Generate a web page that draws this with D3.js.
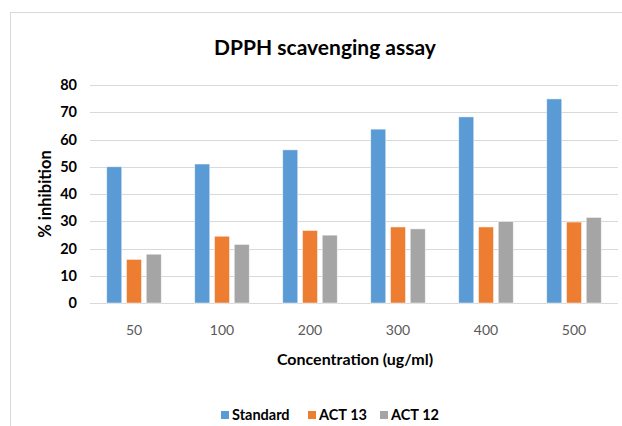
<!DOCTYPE html>
<html>
<head>
<meta charset="utf-8">
<script src="https://cdn.jsdelivr.net/npm/d3@7"></script>
<style>
  body { margin: 0; background: #fff; }
  svg { display: block; font-family: Lato, "Noto Sans", sans-serif; }
</style>
</head>
<body>
<svg id="chart" width="622" height="426"></svg>
<script>
// data
const concentrations = ['50', '100', '200', '300', '400', '500'];
const seriesNames = ['Standard', 'ACT 13', 'ACT 12'];
const standard = [50.0, 51.0, 56.2, 63.8, 68.3, 74.9];
const act13 = [16.0, 24.5, 26.6, 27.9, 27.9, 29.7];
const act12 = [17.9, 21.5, 24.9, 27.2, 29.9, 31.4];
const yTicks = [0, 10, 20, 30, 40, 50, 60, 70, 80];
const colors = ['#5B9BD5', '#ED7D31', '#A5A5A5'];

const svg = d3.select('#chart');
const plotLeft = 90, plotRight = 618, plotTop = 85, plotBottom = 303;

// outer chart border
svg.append('rect')
  .attr('x', 10.5).attr('y', 12.5)
  .attr('width', 640).attr('height', 440)
  .attr('fill', '#fff').attr('stroke', '#d9d9d9');

const x0 = d3.scaleBand().domain(concentrations).range([plotLeft, plotRight])
  .paddingInner(0.38).paddingOuter(0.19);
const x1 = d3.scaleBand().domain(seriesNames).range([0, x0.bandwidth()])
  .paddingInner(0.24);
const y = d3.scaleLinear().domain([0, 80]).range([plotBottom, plotTop]);

// gridlines
svg.append('g')
  .selectAll('line')
  .data(yTicks)
  .join('line')
  .attr('x1', plotLeft).attr('x2', plotRight)
  .attr('y1', d => Math.round(y(d)) + 0.5)
  .attr('y2', d => Math.round(y(d)) + 0.5)
  .attr('stroke', '#d9d9d9').attr('stroke-width', 1);

// y tick labels
svg.append('g')
  .selectAll('text')
  .data(yTicks)
  .join('text')
  .attr('x', 77).attr('y', d => y(d))
  .attr('dy', '0.35em')
  .attr('text-anchor', 'end')
  .attr('font-size', 14.5).attr('font-weight', 'bold')
  .attr('fill', '#000')
  .text(d => d);

// bars
const rows = concentrations.map((c, i) => ({
  c, vals: [standard[i], act13[i], act12[i]]
}));

svg.append('g')
  .selectAll('g')
  .data(rows)
  .join('g')
  .attr('transform', d => 'translate(' + x0(d.c) + ',0)')
  .selectAll('rect')
  .data(d => d.vals.map((v, j) => ({ name: seriesNames[j], v, j })))
  .join('rect')
  .attr('x', d => x1(d.name))
  .attr('y', d => y(d.v))
  .attr('width', x1.bandwidth())
  .attr('height', d => y(0) - y(d.v))
  .attr('fill', d => colors[d.j])
  .attr('stroke', '#fff').attr('stroke-opacity', 0.6).attr('stroke-width', 0.8);

// x tick labels
svg.append('g')
  .selectAll('text')
  .data(concentrations)
  .join('text')
  .attr('x', d => x0(d) + x0.bandwidth() / 2)
  .attr('y', 330)
  .attr('dy', '0.35em')
  .attr('text-anchor', 'middle')
  .attr('font-size', 14)
  .attr('fill', '#595959')
  .text(d => d);

// title
svg.append('text')
  .attr('x', 325).attr('y', 55)
  .attr('text-anchor', 'middle')
  .attr('font-size', 21).attr('font-weight', 'bold')
  .attr('fill', '#000')
  .text('DPPH scavenging assay');

// axis titles
svg.append('text')
  .attr('x', 355).attr('y', 359)
  .attr('dy', '0.35em')
  .attr('text-anchor', 'middle')
  .attr('font-size', 16).attr('font-weight', 'bold')
  .text('Concentration (ug/ml)');

svg.append('text')
  .attr('transform', 'translate(45,194) rotate(-90)')
  .attr('dy', '0.35em')
  .attr('text-anchor', 'middle')
  .attr('font-size', 16.5).attr('font-weight', 'bold')
  .text('% inhibition');

// legend
const legendX = [221, 308, 380];
const legend = svg.append('g')
  .selectAll('g')
  .data(seriesNames)
  .join('g')
  .attr('transform', (d, i) => 'translate(' + legendX[i] + ',415)');
legend.append('rect')
  .attr('x', 0).attr('y', -4)
  .attr('width', 8).attr('height', 8)
  .attr('fill', (d, i) => colors[i]);
legend.append('text')
  .attr('x', 11).attr('y', 0)
  .attr('dy', '0.35em')
  .attr('font-size', 14.5).attr('font-weight', 'bold')
  .text(d => d);
</script>
</body>
</html>
